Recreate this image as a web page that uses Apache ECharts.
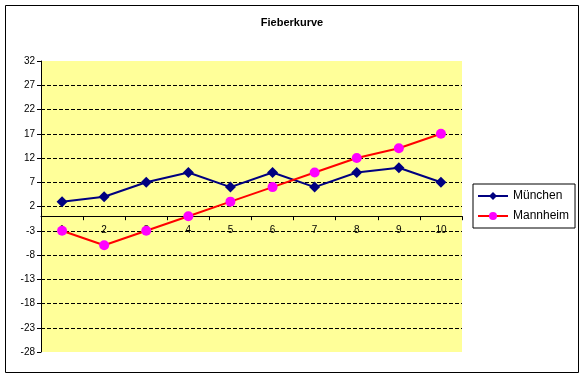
<!DOCTYPE html>
<html>
<head>
<meta charset="utf-8">
<script src="https://cdn.jsdelivr.net/npm/echarts@6/dist/echarts.min.js"></script>
<style>
  html, body { margin: 0; padding: 0; background: #fff; }
  #chart { width: 584px; height: 377px; }
</style>
</head>
<body>
<div id="chart"></div>
<script>
  var days = ['1', '2', '3', '4', '5', '6', '7', '8', '9', '10']
  var muenchen = [3, 4, 7, 9, 6, 9, 6, 9, 10, 7]
  var mannheim = [-3, -6, -3, 0, 3, 6, 9, 12, 14, 17]
  var yTicks = [-28, -23, -18, -13, -8, -3, 2, 7, 12, 17, 22, 27, 32]

  var font = '"Liberation Sans", Arial, sans-serif'
  var chart = echarts.init(document.getElementById('chart'))
  var option = {
    animation: false,
    backgroundColor: '#fff',
    title: {
      text: 'Fieberkurve',
      left: 'center',
      top: 12,
      textStyle: { fontFamily: font, fontSize: 11, fontWeight: 'bold', color: '#000' }
    },
    graphic: [{
      type: 'rect',
      shape: { x: 5.5, y: 5.5, width: 573, height: 367 },
      style: { fill: 'none', stroke: '#000', lineWidth: 1 },
      silent: true
    }],
    legend: {
      orient: 'vertical',
      left: 473,
      top: 184,
      borderColor: '#000',
      borderWidth: 1,
      padding: [6, 6, 6, 4],
      itemWidth: 30,
      itemHeight: 10,
      itemGap: 8,
      textStyle: { fontFamily: font, fontSize: 12, color: '#000' },
      data: ['München', 'Mannheim']
    },
    grid: {
      left: 41,
      right: 122,
      top: 61,
      bottom: 25,
      show: true,
      backgroundColor: '#FFFF99',
      borderWidth: 0
    },
    xAxis: {
      type: 'category',
      data: days,
      offset: 0,
      axisLine: { onZero: false, lineStyle: { color: '#000', width: 1 } },
      axisTick: { show: true, length: 4, lineStyle: { color: '#000' } },
      axisLabel: { interval: 0, margin: 9, fontFamily: font, fontSize: 10, color: '#000' },
      splitLine: { show: false }
    },
    yAxis: {
      type: 'value',
      min: -28,
      max: 32,
      axisLine: { show: true, lineStyle: { color: '#000', width: 1 } },
      axisTick: { show: true, length: 4, customValues: yTicks, lineStyle: { color: '#000' } },
      axisLabel: { customValues: yTicks, margin: 6, fontFamily: font, fontSize: 10, color: '#000' },
      splitLine: {
        show: true,
        showMinLine: false,
        showMaxLine: false,
        lineStyle: { color: '#000', type: [4, 2], width: 1 }
      }
    },
    series: [{
      name: 'München',
      type: 'line',
      data: muenchen,
      symbol: 'diamond',
      symbolSize: 11,
      lineStyle: { color: '#000080', width: 2 },
      itemStyle: { color: '#000080' }
    }, {
      name: 'Mannheim',
      type: 'line',
      data: mannheim,
      symbol: 'circle',
      symbolSize: 10,
      lineStyle: { color: '#FF0000', width: 2 },
      itemStyle: { color: '#FF00FF' }
    }]
  }
  chart.setOption(option)

  // move the whole category axis (line, ticks, labels) up to y = 0
  var zeroY = chart.convertToPixel({ yAxisIndex: 0 }, 0)
  var bottomY = chart.convertToPixel({ yAxisIndex: 0 }, -28)
  chart.setOption({ xAxis: { offset: zeroY - bottomY } })
</script>
</body>
</html>
